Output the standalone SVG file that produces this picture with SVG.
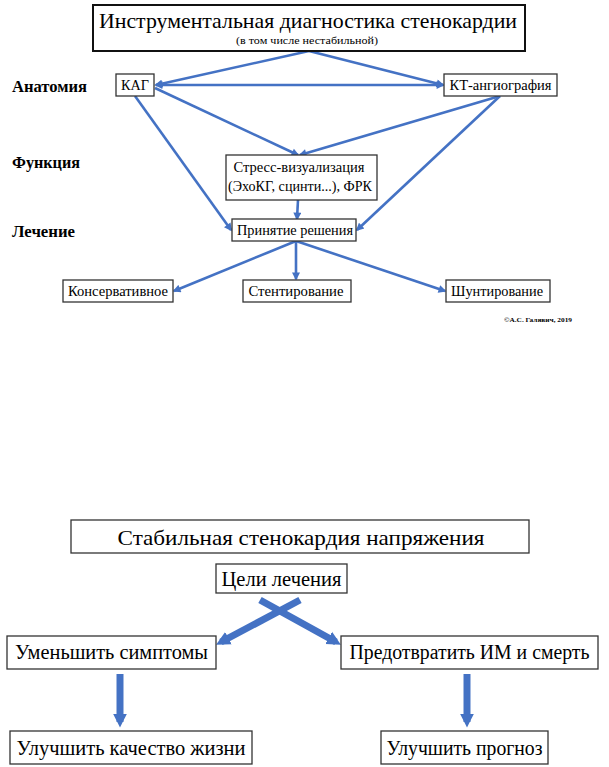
<svg xmlns="http://www.w3.org/2000/svg" width="609" height="767" viewBox="0 0 609 767">
<style>
text{font-family:'Liberation Serif','Times New Roman',serif;fill:#000}
.box{fill:#fff;stroke:#333;stroke-width:1.3}
.big{fill:#fff;stroke:#111;stroke-width:2}
.n{font-size:14px;text-anchor:middle}
.lbl{font-size:16px;font-weight:bold}
.l{font-size:22px;text-anchor:middle}
.c{stroke:#4472C4;stroke-width:2.6;fill:none}
.t{stroke:#4472C4;stroke-width:7;fill:none}
</style>
<defs>
<marker id="ah" viewBox="0 0 10 10" refX="8" refY="5" markerWidth="10" markerHeight="8" orient="auto" markerUnits="userSpaceOnUse"><path d="M0,0 L10,5 L0,10 z" fill="#4472C4"/></marker>
<marker id="as" viewBox="0 0 10 10" refX="2" refY="5" markerWidth="10" markerHeight="8" orient="auto" markerUnits="userSpaceOnUse"><path d="M10,0 L0,5 L10,10 z" fill="#4472C4"/></marker>
<marker id="ab" viewBox="0 0 10 10" refX="6" refY="5" markerWidth="14" markerHeight="16" orient="auto" markerUnits="userSpaceOnUse"><path d="M0,0 L10,5 L0,10 z" fill="#4472C4"/></marker>
</defs>

<g id="connectors">
<line class="c" x1="309" y1="51" x2="156" y2="85" marker-end="url(#ah)"/>
<line class="c" x1="309" y1="51" x2="443" y2="85" marker-end="url(#ah)"/>
<line class="c" x1="156" y1="85" x2="443" y2="85" marker-start="url(#as)" marker-end="url(#ah)"/>
<line class="c" x1="155" y1="88" x2="298" y2="155" marker-end="url(#ah)"/>
<line class="c" x1="500" y1="96" x2="300" y2="155" marker-end="url(#ah)"/>
<line class="c" x1="135" y1="96" x2="231" y2="230" marker-end="url(#ah)"/>
<line class="c" x1="500" y1="96" x2="357" y2="230" marker-end="url(#ah)"/>
<line class="c" x1="298" y1="200" x2="297" y2="219" marker-end="url(#ah)"/>
<line class="c" x1="296" y1="241" x2="174" y2="291" marker-end="url(#ah)"/>
<line class="c" x1="296" y1="241" x2="296" y2="279" marker-end="url(#ah)"/>
<line class="c" x1="296" y1="241" x2="445" y2="291" marker-end="url(#ah)"/>
<line class="t" x1="260" y1="600" x2="336" y2="642" marker-end="url(#ab)"/>
<line class="t" x1="300" y1="600" x2="221" y2="642" marker-end="url(#ab)"/>
<line class="t" x1="120" y1="674" x2="120" y2="722" marker-end="url(#ab)"/>
<line class="t" x1="467" y1="674" x2="467" y2="722" marker-end="url(#ab)"/>
</g>

<g id="title">
<rect class="big" x="93" y="5" width="432" height="46"/>
<text x="308" y="28" font-size="21" text-anchor="middle" textLength="418" lengthAdjust="spacingAndGlyphs">Инструментальная диагностика стенокардии</text>
<text x="307" y="44" font-size="10" text-anchor="middle" textLength="142" lengthAdjust="spacingAndGlyphs">(в том числе нестабильной)</text>
</g>

<g id="labels">
<text class="lbl" x="12" y="92" textLength="75" lengthAdjust="spacingAndGlyphs">Анатомия</text>
<text class="lbl" x="12" y="168" textLength="68" lengthAdjust="spacingAndGlyphs">Функция</text>
<text class="lbl" x="12" y="237" textLength="63" lengthAdjust="spacingAndGlyphs">Лечение</text>
</g>

<g id="kag"><rect class="box" x="116" y="74" width="38" height="22"/><text class="n" x="135" y="90" textLength="28" lengthAdjust="spacingAndGlyphs">КАГ</text></g>
<g id="kt"><rect class="box" x="444" y="74" width="113" height="22"/><text class="n" x="500.5" y="90" textLength="102" lengthAdjust="spacingAndGlyphs">КТ-ангиография</text></g>
<g id="stress"><rect class="box" x="226" y="155" width="151" height="45"/><text class="n" x="299" y="172" textLength="131" lengthAdjust="spacingAndGlyphs">Стресс-визуализация</text><text class="n" x="300" y="191" textLength="144" lengthAdjust="spacingAndGlyphs">(ЭхоКГ, сцинти...), ФРК</text></g>
<g id="decision"><rect class="box" x="232" y="219" width="124" height="22"/><text class="n" x="295" y="235" textLength="116" lengthAdjust="spacingAndGlyphs">Принятие решения</text></g>
<g id="conservative"><rect class="box" x="63" y="280" width="110" height="22"/><text class="n" x="118" y="296" textLength="100" lengthAdjust="spacingAndGlyphs">Консервативное</text></g>
<g id="stenting"><rect class="box" x="243" y="280" width="108" height="22"/><text class="n" x="296" y="296" textLength="95" lengthAdjust="spacingAndGlyphs">Стентирование</text></g>
<g id="bypass"><rect class="box" x="446" y="280" width="104" height="22"/><text class="n" x="497" y="296" textLength="92" lengthAdjust="spacingAndGlyphs">Шунтирование</text></g>
<g id="copyright"><text x="504" y="322" font-size="6.5" font-weight="bold" textLength="68" lengthAdjust="spacingAndGlyphs">©А.С. Галявич, 2019</text></g>

<g id="stable"><rect class="box" x="71" y="520" width="458" height="33"/><text class="l" x="301" y="545" textLength="367" lengthAdjust="spacingAndGlyphs">Стабильная стенокардия напряжения</text></g>
<g id="goals"><rect class="box" x="216" y="564" width="131" height="29"/><text class="l" x="281.5" y="586" textLength="120" lengthAdjust="spacingAndGlyphs">Цели лечения</text></g>
<g id="reduce"><rect class="box" x="7" y="636" width="209" height="33"/><text class="l" x="111.5" y="659" textLength="193" lengthAdjust="spacingAndGlyphs">Уменьшить симптомы</text></g>
<g id="prevent"><rect class="box" x="341" y="636" width="257" height="33"/><text x="469.5" y="659" font-size="20" text-anchor="middle" textLength="240" lengthAdjust="spacingAndGlyphs">Предотвратить ИМ и смерть</text></g>
<g id="quality"><rect class="box" x="10" y="731" width="242" height="33"/><text class="l" x="131" y="755" textLength="229" lengthAdjust="spacingAndGlyphs">Улучшить качество жизни</text></g>
<g id="prognosis"><rect class="box" x="381" y="731" width="167" height="33"/><text class="l" x="464.5" y="755" textLength="156" lengthAdjust="spacingAndGlyphs">Улучшить прогноз</text></g>
</svg>
